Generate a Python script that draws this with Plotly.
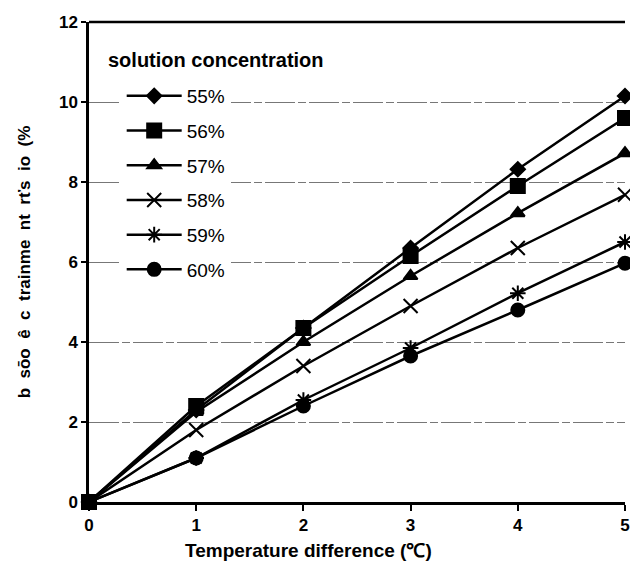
import plotly.graph_objects as go

temp_diff = [0, 1, 2, 3, 4, 5]
series_names = ["55%", "56%", "57%", "58%", "59%", "60%"]
c55 = [0, 2.3, 4.35, 6.35, 8.32, 10.15]
c56 = [0, 2.4, 4.35, 6.15, 7.9, 9.6]
c57 = [0, 2.25, 4.0, 5.65, 7.22, 8.72]
c58 = [0, 1.8, 3.4, 4.9, 6.35, 7.68]
c59 = [0, 1.1, 2.55, 3.85, 5.22, 6.5]
c60 = [0, 1.1, 2.4, 3.65, 4.8, 5.97]
series_values = [c55, c56, c57, c58, c59, c60]
x_ticks = [0, 1, 2, 3, 4, 5]
y_ticks = [0, 2, 4, 6, 8, 10, 12]

symbols = ["diamond", "square", "triangle-up", "x-thin-open", "asterisk-open", "circle"]
sizes = [11, 14, 12, 14, 13, 13]

FONT = "Arial, 'Liberation Sans', sans-serif"
NB = "\u00a0"

fig = go.Figure()
for i, (name, vals) in enumerate(zip(series_names, series_values)):
    fig.add_trace(go.Scatter(
        x=temp_diff, y=vals, name=name, mode="lines+markers",
        legendgroup=name,
        line=dict(color="black", width=2.5),
        marker=dict(symbol=symbols[i], size=sizes[i], color="black",
                    line=dict(color="black", width=2)),
        cliponaxis=False,
    ))

fig.add_annotation(
    text="<b>solution concentration</b>", xref="paper", yref="paper",
    x=(106 - 89) / 541, y=(502 - 60) / 480, xanchor="left", yanchor="middle",
    showarrow=False, font=dict(family=FONT, size=20, color="black"),
)
fig.add_annotation(
    text="<b>Temperature difference (℃)</b>", xref="paper", yref="paper",
    x=(311 - 89) / 541, y=(502 - 550) / 480, xanchor="center", yanchor="middle",
    showarrow=False, font=dict(family=FONT, size=19, color="black"),
)

ytitle = (NB * 2).join(["b", "sōo", "ê", "c", "trainme", "nt", "rťs", "io", "(%"])

fig.update_layout(
    width=630, height=569,
    margin=dict(l=89, r=0, t=22, b=67),
    paper_bgcolor="white", plot_bgcolor="white",
    font=dict(family=FONT, color="black"),
    showlegend=True,
    legend=dict(
        x=(122 - 89) / 541, y=(502 - 77) / 480, xanchor="left", yanchor="top",
        bgcolor="white", borderwidth=0,
        font=dict(family=FONT, size=19, color="black"),
        itemwidth=55, tracegroupgap=7, traceorder="grouped",
    ),
    xaxis=dict(
        range=[0, 5], tickvals=x_ticks, ticktext=[str(v) for v in x_ticks],
        showline=True, linecolor="black", linewidth=2.5, mirror=False,
        ticks="outside", ticklen=6, tickwidth=2, tickcolor="black",
        showgrid=False, zeroline=False, ticklabeloverflow="allow",
        tickfont=dict(family=FONT, size=17, color="black", weight="bold"),
    ),
    yaxis=dict(
        range=[0, 12], tickvals=y_ticks, ticktext=[str(v) for v in y_ticks],
        showline=True, linecolor="black", linewidth=2.5, mirror=False,
        ticks="outside", ticklen=5, tickwidth=2, tickcolor="black",
        showgrid=True, gridcolor="#777777", gridwidth=1, griddash="30px,3px,8px,3px",
        zeroline=False,
        tickfont=dict(family=FONT, size=17, color="black", weight="bold"),
        title=dict(text=ytitle, standoff=24,
                   font=dict(family=FONT, size=17, color="black", weight="bold")),
    ),
    shapes=[dict(type="line", xref="paper", yref="paper", x0=0, x1=1, y0=1, y1=1,
                 line=dict(color="black", width=2.5))],
)

fig.write_html("out.html")
